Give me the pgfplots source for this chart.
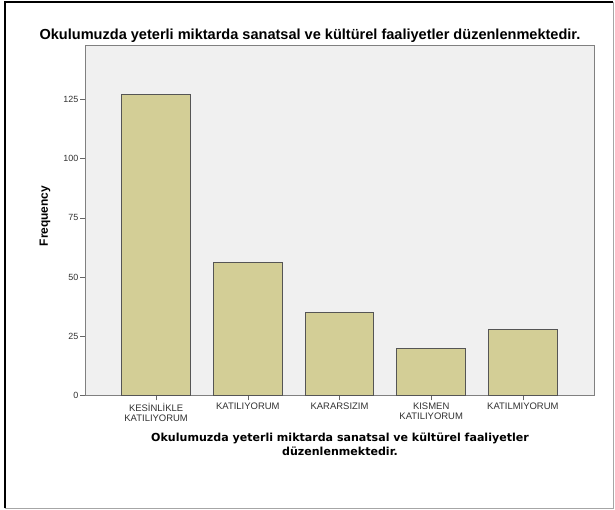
\documentclass[border=0pt]{standalone}
\usepackage{pgfplots}
\pgfplotsset{compat=1.18}
\usepackage{fontspec}
\setmainfont{Liberation Sans}
\newfontfamily\dejavu{DejaVu Sans}

\definecolor{plotbg}{RGB}{240,240,240}
\definecolor{barfill}{RGB}{211,206,150}
\definecolor{baredge}{RGB}{85,85,85}
\definecolor{ticktext}{RGB}{50,50,50}

\begin{document}
\begin{tikzpicture}[x=1bp,y=1bp]
  \path[use as bounding box] (0,0) rectangle (615,510);
  % outer frame
  \draw[black, line width=2bp] (5,1.5) -- (5,507.5) -- (613,507.5);
  \draw[gray!70, line width=1.5bp] (5,1.5) -- (613.5,1.5) -- (613.5,507.5);

  \begin{axis}[
    at={(85bp,114.5bp)}, anchor=south west,
    scale only axis,
    width=509bp, height=350.5bp,
    xmin=-0.776, xmax=4.776,
    ymin=0, ymax=148,
    axis background/.style={fill=plotbg},
    axis line style={draw=black!50, line width=0.8bp},
    ybar, bar width=0.75,
    xtick={0,1,2,3,4},
    xticklabels={{KES\.{I}NL\.{I}KLE\\KATILIYORUM},KATILIYORUM,KARARSIZIM,{KISMEN\\KATILIYORUM},KATILMIYORUM},
    ytick={0,25,50,75,100,125},
    tick align=outside, xtick pos=bottom, ytick pos=left,
    major tick length=5bp,
    tick style={draw=black!60, line width=0.6bp},
    xticklabel style={font=\fontsize{9.5}{10}\selectfont, text=ticktext, align=center, inner sep=2.5bp},
    yticklabel style={font=\fontsize{9}{10}\selectfont, text=ticktext, inner sep=1.5bp},
    /pgf/number format/assume math mode=true,
  ]
    \addplot[fill=barfill, draw=baredge, line width=0.8bp] coordinates {
      (0,127) (1,56) (2,35) (3,20) (4,28)
    };
  \end{axis}

  \node[font=\fontsize{14.6}{16}\selectfont\bfseries] at (310,474)
    {Okulumuzda yeterli miktarda sanatsal ve kültürel faaliyetler düzenlenmektedir.};
  \node[font=\dejavu\fontsize{11.1}{13.5}\selectfont\bfseries, align=center] at (340,65.5)
    {Okulumuzda yeterli miktarda sanatsal ve kültürel faaliyetler\\düzenlenmektedir.};
  \node[font=\fontsize{12}{14}\selectfont\bfseries, rotate=90] at (45,294) {Frequency};
\end{tikzpicture}
\end{document}
